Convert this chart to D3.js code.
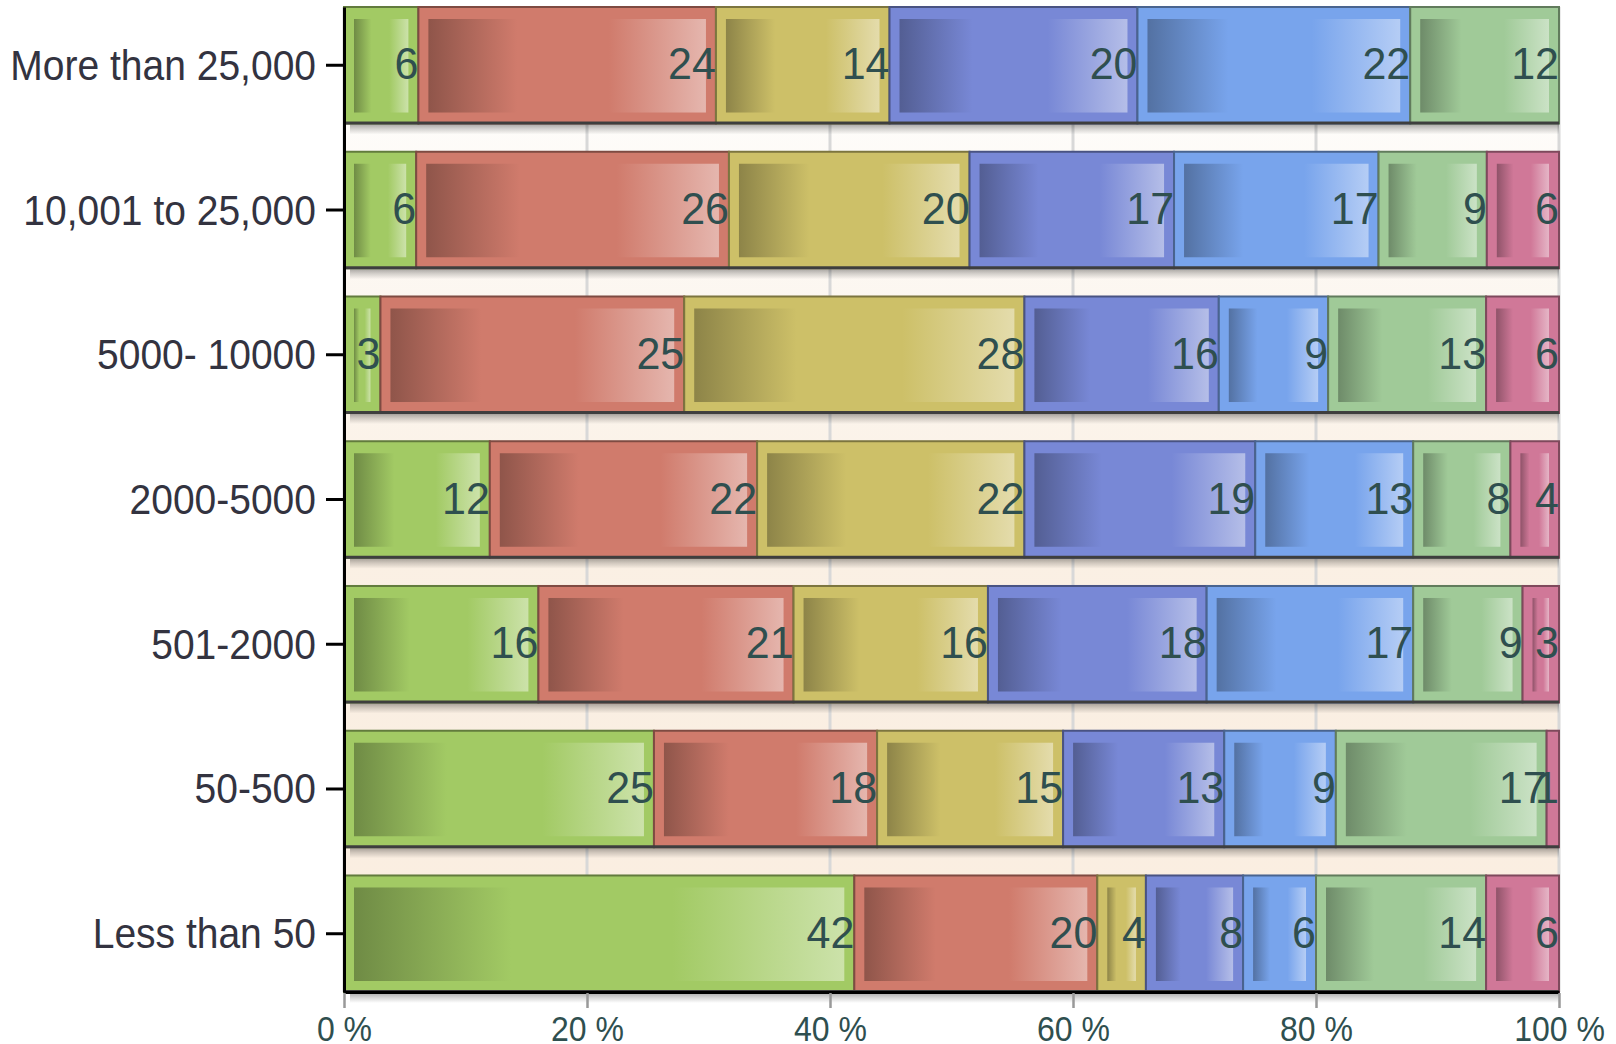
<!DOCTYPE html>
<html>
<head>
<meta charset="utf-8">
<script src="https://cdn.jsdelivr.net/npm/d3@7"></script>
<style>
  html, body { margin: 0; padding: 0; background: #ffffff; }
  svg { display: block; }
  text { font-family: "Liberation Sans", Arial, sans-serif; }
</style>
</head>
<body>
<svg id="chart" width="1616" height="1044"></svg>
<script>
// ---------- data ----------
const categories = ["More than 25,000", "10,001 to 25,000", "5000- 10000", "2000-5000", "501-2000", "50-500", "Less than 50"];
const seriesKeys = ["s1", "s2", "s3", "s4", "s5", "s6", "s7"];
const s1 = [6, 6, 3, 12, 16, 25, 42];
const s2 = [24, 26, 25, 22, 21, 18, 20];
const s3 = [14, 20, 28, 22, 16, 15, 4];
const s4 = [20, 17, 16, 19, 18, 13, 8];
const s5 = [22, 17, 9, 13, 17, 9, 6];
const s6 = [12, 9, 13, 8, 9, 17, 14];
const s7 = [0, 6, 6, 4, 3, 1, 6];
const seriesColors = ["#a2ca64", "#d07b6c", "#cdc068", "#7888d6", "#78a4ec", "#a0ca98", "#d07898"];
const xTickValues = [0, 20, 40, 60, 80, 100];

// ---------- build table ----------
const seriesValues = [s1, s2, s3, s4, s5, s6, s7];
const table = categories.map((c, i) => {
  const row = { category: c };
  seriesKeys.forEach((k, j) => { row[k] = seriesValues[j][i]; });
  return row;
});
const stacked = d3.stack().keys(seriesKeys).offset(d3.stackOffsetExpand)(table);

// ---------- layout ----------
const svg = d3.select("#chart");
const plotLeft = 344, plotRight = 1559, plotTop = 7, plotBottom = 992;

const x = d3.scaleLinear().domain([0, 1]).range([plotLeft, plotRight]);
const y = d3.scaleBand().domain(categories).range([plotTop, plotBottom]).paddingInner(0.195).paddingOuter(0);
const color = d3.scaleOrdinal().domain(seriesKeys).range(seriesColors);

const defs = svg.append("defs");

// plot background gradient
const bg = defs.append("linearGradient").attr("id", "bgGrad")
  .attr("x1", 0).attr("y1", 0).attr("x2", 0).attr("y2", 1);
bg.append("stop").attr("offset", "0%").attr("stop-color", "#ffffff");
bg.append("stop").attr("offset", "55%").attr("stop-color", "#faf0e4");
bg.append("stop").attr("offset", "100%").attr("stop-color", "#faede0");

// shadow gradient
const sh = defs.append("linearGradient").attr("id", "shadowGrad")
  .attr("x1", 0).attr("y1", 0).attr("x2", 0).attr("y2", 1);
sh.append("stop").attr("offset", "0%").attr("stop-color", "#000").attr("stop-opacity", 0.32);
sh.append("stop").attr("offset", "45%").attr("stop-color", "#000").attr("stop-opacity", 0.16);
sh.append("stop").attr("offset", "100%").attr("stop-color", "#000").attr("stop-opacity", 0);

// inner gradients per series
seriesKeys.forEach(k => {
  const base = d3.color(color(k));
  const dark = base.darker(1.05);
  const light = d3.interpolateRgb(base, "#ffffff")(0.45);
  const g = defs.append("linearGradient").attr("id", "inner-" + k)
    .attr("x1", 0).attr("y1", 0).attr("x2", 1).attr("y2", 0);
  g.append("stop").attr("offset", "0%").attr("stop-color", dark.formatHex());
  g.append("stop").attr("offset", "32%").attr("stop-color", base.formatHex());
  g.append("stop").attr("offset", "65%").attr("stop-color", base.formatHex());
  g.append("stop").attr("offset", "100%").attr("stop-color", light);
});

// layer groups in drawing order
const gBg = svg.append("g");
const gGrid = svg.append("g");
const gShadow = svg.append("g");
const gSeg = svg.append("g");
const gEdge = svg.append("g");
const gLab = svg.append("g");
const gAxes = svg.append("g");

// background
gBg.append("rect")
  .attr("x", plotLeft).attr("y", plotTop)
  .attr("width", plotRight - plotLeft).attr("height", plotBottom - plotTop)
  .attr("fill", "url(#bgGrad)");

// vertical gridlines
gGrid.selectAll("line")
  .data(xTickValues)
  .join("line")
  .attr("x1", d => x(d / 100)).attr("x2", d => x(d / 100))
  .attr("y1", plotTop).attr("y2", plotBottom)
  .attr("stroke", "#d8d8d8").attr("stroke-width", 3);

// row shadows
gShadow.selectAll("rect")
  .data(categories)
  .join("rect")
  .attr("x", plotLeft + 6).attr("y", d => y(d) + y.bandwidth() + 1)
  .attr("width", plotRight - plotLeft - 6).attr("height", 10)
  .attr("fill", "url(#shadowGrad)");

// segments
stacked.forEach(layer => {
  const k = layer.key;
  const base = d3.color(color(k));
  const g = gSeg.append("g");
  const data = layer.map((d, i) => ({ x0: d[0], x1: d[1], cat: categories[i], value: d.data[k] }))
    .filter(d => d.value > 0);

  g.selectAll("rect.seg")
    .data(data)
    .join("rect")
    .attr("class", "seg")
    .attr("x", d => x(d.x0)).attr("y", d => y(d.cat))
    .attr("width", d => x(d.x1) - x(d.x0)).attr("height", y.bandwidth())
    .attr("fill", base.formatHex())
    .attr("stroke", base.darker(1.4).formatHex())
    .attr("stroke-width", 2);

  g.selectAll("rect.inner")
    .data(data.filter(d => x(d.x1) - x(d.x0) > 22))
    .join("rect")
    .attr("class", "inner")
    .attr("x", d => x(d.x0) + 10).attr("y", d => y(d.cat) + 12)
    .attr("width", d => x(d.x1) - x(d.x0) - 20).attr("height", y.bandwidth() - 23)
    .attr("fill", "url(#inner-" + k + ")");
});

// dark bottom edge of each bar row
gEdge.selectAll("rect")
  .data(categories)
  .join("rect")
  .attr("x", plotLeft).attr("y", d => y(d) + y.bandwidth() - 2)
  .attr("width", plotRight - plotLeft).attr("height", 3)
  .attr("fill", "#3e3e3e");

// value labels
stacked.forEach(layer => {
  const k = layer.key;
  const data = layer.map((d, i) => ({ x1: d[1], cat: categories[i], value: d.data[k] }))
    .filter(d => d.value > 0);
  gLab.append("g").selectAll("text")
    .data(data)
    .join("text")
    .attr("transform", d => `translate(${x(d.x1)},${y(d.cat) + y.bandwidth() / 2 + 14}) scale(1,1.05)`)
    .attr("text-anchor", "end")
    .attr("font-size", 43)
    .attr("fill", "#2f4f4f")
    .text(d => d.value);
});

// x axis
const xAxis = gAxes.append("g")
  .attr("transform", `translate(0,${plotBottom})`)
  .call(d3.axisBottom(x)
    .tickValues(xTickValues.map(v => v / 100))
    .tickFormat(d => Math.round(d * 100) + " %")
    .tickSize(16).tickSizeOuter(0));
xAxis.select(".domain").attr("stroke", "#000").attr("stroke-width", 3);
xAxis.selectAll(".tick line").attr("stroke", "#999").attr("stroke-width", 2.5).attr("y1", 1);
xAxis.selectAll(".tick text")
  .attr("y", 0).attr("dy", 0)
  .attr("transform", "translate(0,49) scale(1,1.07)")
  .attr("font-size", 32)
  .attr("font-family", "Liberation Sans, Arial, sans-serif")
  .attr("fill", "#2f4f4f");

// y axis
const yAxis = gAxes.append("g")
  .attr("transform", `translate(${plotLeft},0)`)
  .call(d3.axisLeft(y).tickSize(18).tickSizeOuter(0));
yAxis.select(".domain").attr("stroke", "#000").attr("stroke-width", 3);
yAxis.selectAll(".tick line").attr("stroke", "#000").attr("stroke-width", 3);
yAxis.selectAll(".tick text")
  .attr("x", 0).attr("dy", 0)
  .attr("transform", "translate(-28,14.5) scale(1,1.08)")
  .attr("text-anchor", "end")
  .attr("font-size", 39)
  .attr("font-family", "Liberation Sans, Arial, sans-serif")
  .attr("fill", "#333340");
</script>
</body>
</html>
